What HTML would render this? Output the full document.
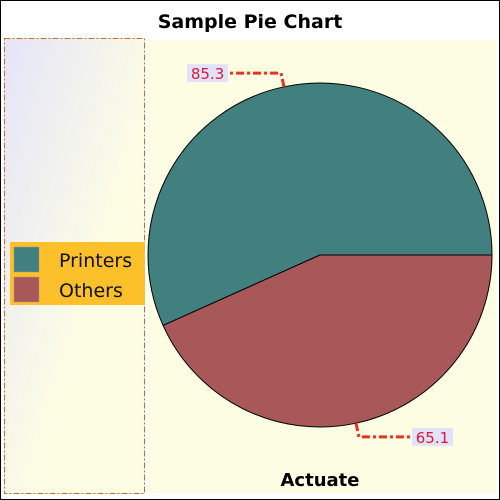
<!DOCTYPE html>
<html><head><meta charset="utf-8"><style>
html,body{margin:0;padding:0;background:#fff}
svg{display:block}
text{font-family:"DejaVu Sans","Liberation Sans",sans-serif}
</style></head><body>
<svg id="c" width="500" height="500" viewBox="0 0 500 500">
<defs><linearGradient id="g" x1="0" y1="0" x2="1" y2="1"><stop offset="0" stop-color="#e4e4fa"/><stop offset="0.6" stop-color="#fdfde4"/></linearGradient></defs>
<rect x="0.5" y="0.5" width="499" height="499" fill="#fff" stroke="#000"/>
<rect x="148" y="40" width="348" height="453" fill="#fdfde3"/>
<rect x="4.5" y="38.5" width="140" height="455" fill="url(#g)" stroke="#d2691e" stroke-dasharray="6,2,2,2"/>
<text x="250" y="28" text-anchor="middle" font-size="19" font-weight="bold">Sample Pie Chart</text>
<rect x="10" y="242" width="135" height="63" fill="#fbc02a"/>
<g id="legend"></g>
<g id="slices"></g>
<g id="labels"></g>
<text x="320" y="486" text-anchor="middle" font-size="18" font-weight="bold">Actuate</text>
</svg>
<script>
const categories=["Printers","Others"];
const values=[85.3,65.1];
const colors=["#41807e","#a85858"];
const NS="http://www.w3.org/2000/svg";
const cx=320,cy=255,r=172;
function mk(t,a,p){const e=document.createElementNS(NS,t);for(const k in a)e.setAttribute(k,a[k]);p.appendChild(e);return e;}
const total=values.reduce((a,b)=>a+b,0);
let ang=0;
const sg=document.getElementById('slices'),lg=document.getElementById('labels'),leg=document.getElementById('legend');
values.forEach((v,i)=>{
  const a0=ang,a1=ang+v/total*2*Math.PI;ang=a1;
  const x0=cx+r*Math.cos(a0),y0=cy-r*Math.sin(a0),x1=cx+r*Math.cos(a1),y1=cy-r*Math.sin(a1);
  const large=(a1-a0)>Math.PI?1:0;
  const p=mk('path',{d:`M${cx},${cy}L${x0},${y0}A${r},${r} 0 ${large} 0 ${x1},${y1}Z`,fill:colors[i],stroke:'#000','stroke-width':1},sg);
  
  
  const m=(a0+a1)/2;
  const ex=cx+r*Math.cos(m),ey=cy-r*Math.sin(m);
  const kx=cx+(r+14)*Math.cos(m),ky=cy-(r+14)*Math.sin(m);
  const left=Math.cos(m)<0;
  const hx=left?kx-53:kx+53;
  const ln=mk('polyline',{points:`${ex},${ey} ${kx},${ky} ${hx},${ky}`,fill:'none',stroke:'#e8341c','stroke-width':3,'stroke-dasharray':'8,3,3,3'},lg);
  
  
  const txt=values[i].toFixed(1);
  const w=41,bx=left?hx-w:hx;
  const b=mk('rect',{x:bx,y:ky-9,width:w,height:18,fill:'#e2e2f8'},lg);
  
  
  const t=mk('text',{x:bx+w/2,y:ky+6,'text-anchor':'middle','font-size':15,fill:'#d81b3c','font-family':'"DejaVu Sans Mono",monospace'},lg);
  t.textContent=txt;
  
  
  const sw=mk('rect',{x:14,y:247+i*30,width:25,height:25,fill:colors[i],stroke:'#999','stroke-width':0.5},leg);
  
  
  const lt=mk('text',{x:59,y:267+i*30,'font-size':19,fill:'#111'},leg);
  lt.textContent=categories[i];
  
  
});
</script>
</body></html>
